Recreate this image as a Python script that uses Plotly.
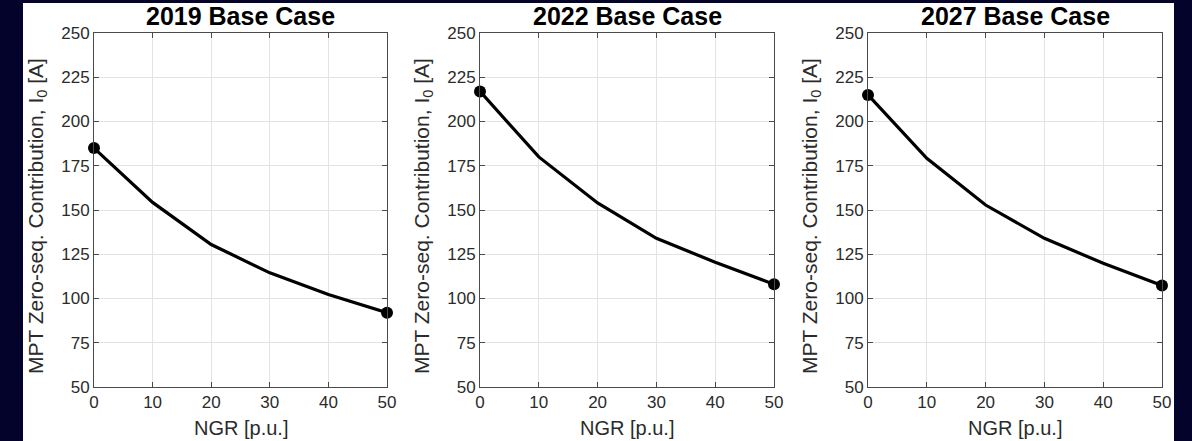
import plotly.graph_objects as go

# ---- data ----
ngr = [0, 10, 20, 30, 40, 50]
i0_2019 = [185, 154.3, 130.5, 114.5, 102.3, 92]
i0_2022 = [217, 180, 154, 134, 120.5, 108]
i0_2027 = [215, 179.2, 152.8, 134, 119.9, 107.3]
titles = ["2019 Base Case", "2022 Base Case", "2027 Base Case"]
series = [i0_2019, i0_2022, i0_2027]
y_ticks = [50, 75, 100, 125, 150, 175, 200, 225, 250]
x_ticks = [0, 10, 20, 30, 40, 50]
x_title = "NGR [p.u.]"
y_title = "MPT Zero-seq. Contribution, I<sub>0</sub> [A]"

W, H = 1192, 441
ML, MR, MT, MB = 94, 30, 33, 54
pw = W - ML - MR
ph = H - MT - MB
panels_px = [(94, 387), (480, 774), (868, 1162)]
domains = [((a - ML) / pw, (b - ML) / pw) for a, b in panels_px]

NAVY = "#03032c"
AX = "#4a4a4a"
TXT = "#2b2b2b"
FONT = "Liberation Sans, Arial, sans-serif"

fig = go.Figure()

for k, (ys, t) in enumerate(zip(series, titles)):
    sfx = "" if k == 0 else str(k + 1)
    fig.add_trace(go.Scatter(
        x=ngr, y=ys, mode="lines",
        line=dict(color="black", width=3.2),
        xaxis="x" + sfx, yaxis="y" + sfx, showlegend=False,
    ))
    fig.add_trace(go.Scatter(
        x=[ngr[0], ngr[-1]], y=[ys[0], ys[-1]], mode="markers",
        marker=dict(color="black", size=12),
        xaxis="x" + sfx, yaxis="y" + sfx, showlegend=False, cliponaxis=False,
    ))
    common = dict(
        showline=True, linecolor=AX, linewidth=1, mirror="ticks",
        ticks="inside", ticklen=5, tickcolor=AX, tickwidth=1,
        showgrid=True, gridcolor="#e3e3e3", gridwidth=1,
        zeroline=False,
        tickfont=dict(family=FONT, size=17, color=TXT),
    )
    fig.layout["xaxis" + sfx] = dict(
        domain=list(domains[k]), range=[0, 50], tickvals=x_ticks,
        anchor="y" + sfx, **common,
    )
    fig.layout["yaxis" + sfx] = dict(
        domain=[0, 1], range=[50, 250], tickvals=y_ticks,
        anchor="x" + sfx, **common,
    )
    d0, d1 = domains[k]
    cx = (d0 + d1) / 2
    # panel title
    fig.add_annotation(
        text="<b>" + t + "</b>", x=cx, y=1.0, xref="paper", yref="paper",
        xanchor="center", yanchor="middle", yshift=17, showarrow=False,
        font=dict(family=FONT, size=25, color="#000000"),
    )
    # x axis title
    fig.add_annotation(
        text=x_title, x=cx, y=0.0, xref="paper", yref="paper",
        xanchor="center", yanchor="middle", yshift=-41, showarrow=False,
        font=dict(family=FONT, size=20, color=TXT),
    )
    # y axis title
    fig.add_annotation(
        text=y_title, x=d0, y=0.5, xref="paper", yref="paper",
        xanchor="center", yanchor="middle", xshift=-57, yshift=-6,
        textangle=-90, showarrow=False,
        font=dict(family=FONT, size=21, color=TXT),
    )

# white figure area over navy background
fig.add_shape(
    type="rect", xref="paper", yref="paper", layer="below",
    x0=(23 - ML) / pw, x1=(1174 - ML) / pw,
    y0=(H - MB - 441) / ph, y1=(H - MB - 3) / ph,
    fillcolor="white", line=dict(width=0),
)

fig.update_layout(
    width=W, height=H, autosize=False,
    margin=dict(l=ML, r=MR, t=MT, b=MB),
    paper_bgcolor=NAVY, plot_bgcolor="white",
    font=dict(family=FONT),
)

fig.write_html("out.html")
